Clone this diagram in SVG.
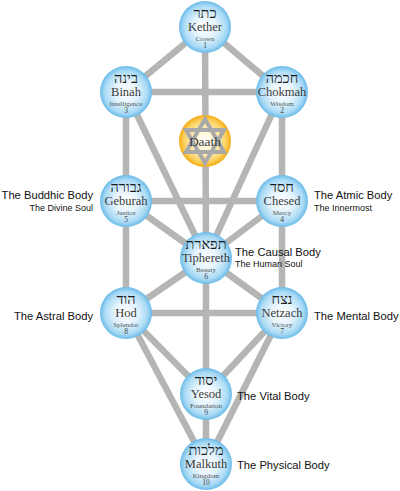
<svg xmlns="http://www.w3.org/2000/svg" width="400" height="491" viewBox="0 0 400 491">
<defs>
<radialGradient id="blue" cx="50%" cy="50%" r="50%">
<stop offset="0" stop-color="#ffffff"/>
<stop offset="0.45" stop-color="#e4f3fc"/>
<stop offset="0.82" stop-color="#a9daf5"/>
<stop offset="1" stop-color="#6bbbe9"/>
</radialGradient>
<radialGradient id="gold" cx="50%" cy="50%" r="50%">
<stop offset="0" stop-color="#ffffff"/>
<stop offset="0.45" stop-color="#fff3c8"/>
<stop offset="0.82" stop-color="#fbcf5c"/>
<stop offset="1" stop-color="#f4ab12"/>
</radialGradient>
</defs>
<style>
.edge{stroke:#b5b5b5;stroke-width:6.5;fill:none;stroke-linecap:butt}
.sph{fill:url(#blue)}
.heb{font-family:"Liberation Serif","DejaVu Serif",serif;font-size:14.5px;fill:#1a1a1a;text-anchor:middle}
.nm{font-family:"Liberation Serif","DejaVu Serif",serif;font-size:12.5px;fill:#3a3a3a;text-anchor:middle}
.sub{font-family:"Liberation Serif","DejaVu Serif",serif;font-size:7px;fill:#555;text-anchor:middle}
.num{font-family:"Liberation Serif","DejaVu Serif",serif;font-size:7.5px;fill:#444;text-anchor:middle}
.lb{font-family:"Liberation Sans",Arial,sans-serif;font-size:11.2px;fill:#111}
.ls{font-family:"Liberation Sans",Arial,sans-serif;font-size:9px;fill:#111}
.end{text-anchor:end}
</style>
<rect width="400" height="491" fill="#ffffff"/>
<g id="connectors">
<line class="edge" x1="205" y1="27" x2="126" y2="92"/>
<line class="edge" x1="205" y1="27" x2="282" y2="92"/>
<line class="edge" x1="205" y1="27" x2="206" y2="258"/>
<line class="edge" x1="126" y1="92" x2="282" y2="92"/>
<line class="edge" x1="126" y1="92" x2="126" y2="201"/>
<line class="edge" x1="282" y1="92" x2="282" y2="201"/>
<line class="edge" x1="126" y1="92" x2="206" y2="258"/>
<line class="edge" x1="282" y1="92" x2="206" y2="258"/>
<line class="edge" x1="126" y1="201" x2="282" y2="201"/>
<line class="edge" x1="126" y1="201" x2="206" y2="258"/>
<line class="edge" x1="282" y1="201" x2="206" y2="258"/>
<line class="edge" x1="126" y1="201" x2="126" y2="313"/>
<line class="edge" x1="282" y1="201" x2="282" y2="313"/>
<line class="edge" x1="206" y1="258" x2="126" y2="313"/>
<line class="edge" x1="206" y1="258" x2="282" y2="313"/>
<line class="edge" x1="206" y1="258" x2="206" y2="394"/>
<line class="edge" x1="126" y1="313" x2="282" y2="313"/>
<line class="edge" x1="126" y1="313" x2="206" y2="394"/>
<line class="edge" x1="282" y1="313" x2="206" y2="394"/>
<line class="edge" x1="126" y1="313" x2="206" y2="464"/>
<line class="edge" x1="282" y1="313" x2="206" y2="464"/>
<line class="edge" x1="206" y1="394" x2="206" y2="464"/>
</g>
<g id="kether">
<circle class="sph" cx="205" cy="27" r="26"/>
<text class="heb" x="205" y="18">כתר</text>
<text class="nm" x="205" y="31">Kether</text>
<text class="sub" x="205" y="40.5">Crown</text>
<text class="num" x="205" y="48">1</text>
</g>
<g id="binah">
<circle class="sph" cx="126" cy="92" r="26"/>
<text class="heb" x="126" y="83">בינה</text>
<text class="nm" x="126" y="96">Binah</text>
<text class="sub" x="126" y="105.5">Intelligence</text>
<text class="num" x="126" y="113">3</text>
</g>
<g id="chokmah">
<circle class="sph" cx="282" cy="92" r="26"/>
<text class="heb" x="282" y="83">חכמה</text>
<text class="nm" x="282" y="96">Chokmah</text>
<text class="sub" x="282" y="105.5">Wisdom</text>
<text class="num" x="282" y="113">2</text>
</g>
<g id="daath">
<circle cx="205" cy="141" r="26" fill="url(#gold)"/>
<g fill="none" stroke="#a9a9a9" stroke-width="4" stroke-linejoin="miter">
<polygon points="205,119 224,152 186,152"/>
<polygon points="205,163 224,130 186,130"/>
</g>
<text class="nm" x="205" y="145.5" style="font-size:13.5px">Daath</text>
</g>
<g id="geburah">
<circle class="sph" cx="126" cy="201" r="26"/>
<text class="heb" x="126" y="192">גבורה</text>
<text class="nm" x="126" y="205">Geburah</text>
<text class="sub" x="126" y="214.5">Justice</text>
<text class="num" x="126" y="222">5</text>
</g>
<g id="chesed">
<circle class="sph" cx="282" cy="201" r="26"/>
<text class="heb" x="282" y="192">חסד</text>
<text class="nm" x="282" y="205">Chesed</text>
<text class="sub" x="282" y="214.5">Mercy</text>
<text class="num" x="282" y="222">4</text>
</g>
<g id="tiphereth">
<circle class="sph" cx="206" cy="258" r="26"/>
<text class="heb" x="206" y="249">תפארת</text>
<text class="nm" x="206" y="262">Tiphereth</text>
<text class="sub" x="206" y="271.5">Beauty</text>
<text class="num" x="206" y="279">6</text>
</g>
<g id="hod">
<circle class="sph" cx="126" cy="313" r="26"/>
<text class="heb" x="126" y="304">הוד</text>
<text class="nm" x="126" y="317">Hod</text>
<text class="sub" x="126" y="326.5">Splendor</text>
<text class="num" x="126" y="334">8</text>
</g>
<g id="netzach">
<circle class="sph" cx="282" cy="313" r="26"/>
<text class="heb" x="282" y="304">נצח</text>
<text class="nm" x="282" y="317">Netzach</text>
<text class="sub" x="282" y="326.5">Victory</text>
<text class="num" x="282" y="334">7</text>
</g>
<g id="yesod">
<circle class="sph" cx="206" cy="394" r="26"/>
<text class="heb" x="206" y="385">יסוד</text>
<text class="nm" x="206" y="398">Yesod</text>
<text class="sub" x="206" y="407.5">Foundation</text>
<text class="num" x="206" y="415">9</text>
</g>
<g id="malkuth">
<circle class="sph" cx="206" cy="464" r="26"/>
<text class="heb" x="206" y="455">מלכות</text>
<text class="nm" x="206" y="468">Malkuth</text>
<text class="sub" x="206" y="477.5">Kingdom</text>
<text class="num" x="206" y="485">10</text>
</g>
<g id="labels">
<text class="lb end" x="93" y="199">The Buddhic Body</text>
<text class="ls end" x="93" y="211">The Divine Soul</text>
<text class="lb" x="314" y="199">The Atmic Body</text>
<text class="ls" x="314" y="211">The Innermost</text>
<text class="lb" x="235" y="256">The Causal Body</text>
<text class="ls" x="235" y="267">The Human Soul</text>
<text class="lb end" x="93" y="320">The Astral Body</text>
<text class="lb" x="314" y="320">The Mental Body</text>
<text class="lb" x="237" y="400">The Vital Body</text>
<text class="lb" x="237" y="469">The Physical Body</text>
</g>
</svg>
